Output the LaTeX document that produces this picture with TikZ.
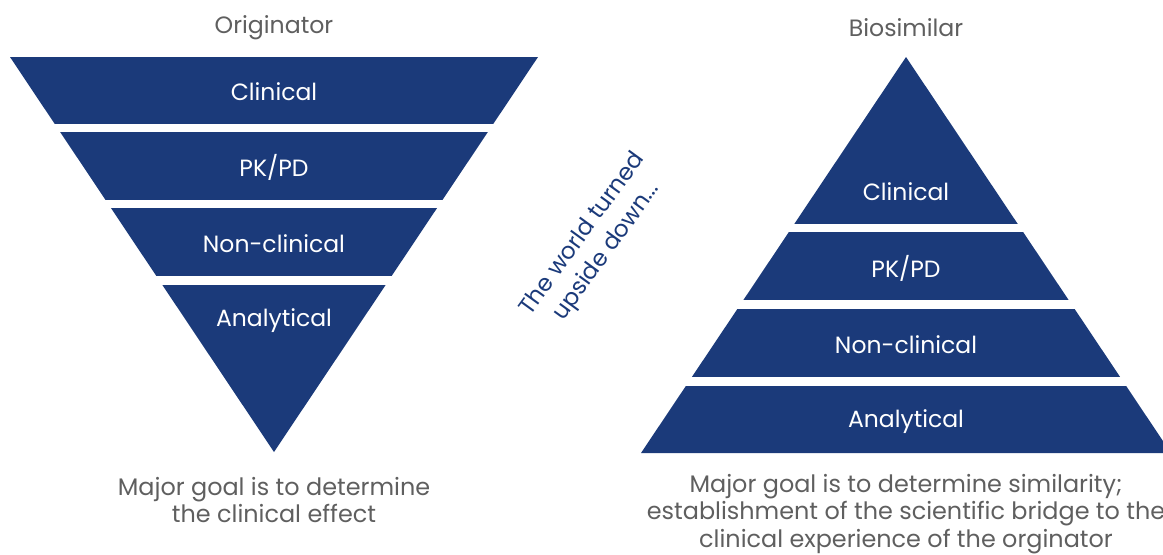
\documentclass[tikz,border=0pt]{standalone}
\usepackage{fontspec}
\setmainfont{Poppins}
\usepackage{tikz}

\definecolor{pyrblue}{RGB}{27,58,122}
\definecolor{txtgray}{RGB}{95,95,95}

\begin{document}
\begin{tikzpicture}[x=0.025cm, y=-0.025cm,
  lbl/.style={white, font=\fontsize{16.7}{19}\selectfont},
  ttl/.style={txtgray, font=\fontsize{16.8}{19}\selectfont},
  note/.style={txtgray, align=center, font=\fontsize{17}{19.4}\selectfont}]
\useasboundingbox (0,0) rectangle (1163,554);
% the originator triangle
\fill[pyrblue] (10,57) -- (538,57) -- (274,452) -- cycle;
\fill[white] (0,124) rectangle (560,132);
\fill[white] (0,200) rectangle (560,208);
\fill[white] (0,276) rectangle (560,285);
% the biosimilar triangle
\fill[pyrblue] (906,57) -- (1171,453) -- (641,453) -- cycle;
\fill[white] (620,224) rectangle (1180,232);
\fill[white] (620,300) rectangle (1180,309);
\fill[white] (620,377) rectangle (1180,386);
% titles
\node[ttl] (orig) at (274,28) {Originator};
\node[ttl] (bios) at (906,28) {Biosimilar};
% left labels
\node[lbl] (lclin) at (274,92) {Clinical};
\node[lbl] (lpkpd) at (274,167) {PK/PD};
\node[lbl] (lnonc) at (274,244) {Non-clinical};
\node[lbl] (lanal) at (274,321) {Analytical};
% right labels
\node[lbl] (rclin) at (906,192) {Clinical};
\node[lbl] (rpkpd) at (906,268) {PK/PD};
\node[lbl] (rnonc) at (906,345) {Non-clinical};
\node[lbl] (ranal) at (906,422) {Analytical};
% middle text
\node[pyrblue, rotate=54, align=center, font=\fontsize{16.5}{21}\selectfont] (world) at (595,243) {The world turned\\upside down...};
% goals
\node[note] (lgoal) at (274,500) {Major goal is to determine\\the clinical effect};
\node[note] (rgoal) at (906,514) {Major goal is to determine similarity;\\establishment of the scientific bridge to the\\clinical experience of the orginator};
\end{tikzpicture}
\end{document}
